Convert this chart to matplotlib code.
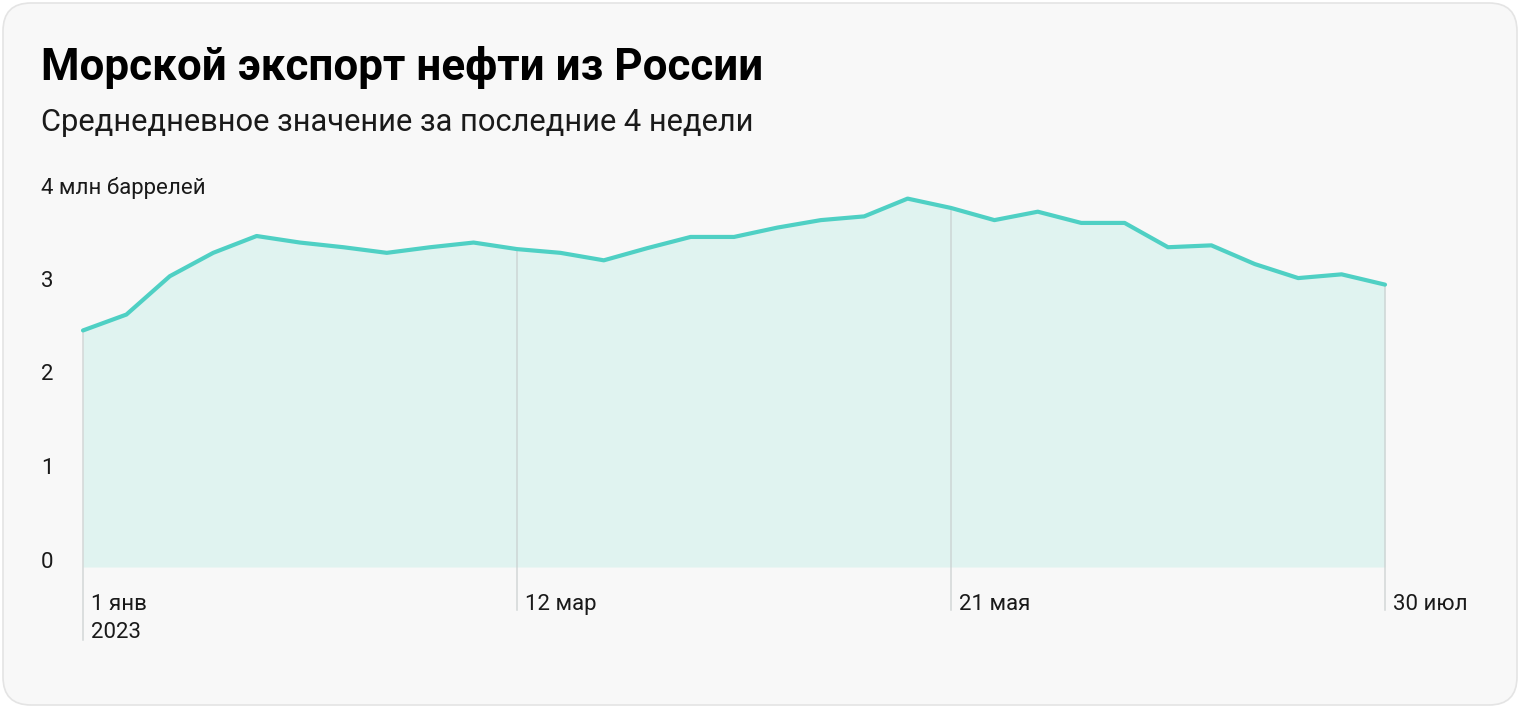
import matplotlib
matplotlib.use("Agg")
import matplotlib.pyplot as plt
import matplotlib.transforms as mtransforms
from matplotlib.patches import FancyBboxPatch
import numpy as np

plt.rcParams['font.family'] = ['Roboto', 'DejaVu Sans']

# weekly values, 1 Jan 2023 .. 30 Jul 2023, million barrels per day
weeks = np.arange(31)
exports = [2.53, 2.70, 3.11, 3.36, 3.54, 3.47, 3.42, 3.36, 3.42, 3.47,
           3.40, 3.36, 3.28, 3.41, 3.53, 3.53, 3.63, 3.71, 3.75, 3.94,
           3.84, 3.71, 3.80, 3.68, 3.68, 3.42, 3.44, 3.24, 3.09, 3.13,
           3.02]
tick_weeks = [0, 10, 20, 30]
tick_labels = ['1 янв\n2023', '12 мар', '21 мая', '30 июл']
y_ticks = [0, 1, 2, 3, 4]
y_labels = ['0', '1', '2', '3', '4 млн баррелей']

title = 'Морской экспорт нефти из России'
subtitle = 'Среднедневное значение за последние 4 недели'

line_color = '#4fd0c4'
fill_color = '#e0f3f0'
card_color = '#f8f8f8'

W, H = 1520, 708
fig = plt.figure(figsize=(W / 100, H / 100), dpi=100)
fig.patch.set_facecolor('white')

card = FancyBboxPatch((0.03, 0.03), W / 100 - 0.06, H / 100 - 0.06,
                      boxstyle='round,pad=0,rounding_size=0.28',
                      transform=fig.dpi_scale_trans, facecolor=card_color,
                      edgecolor='#e4e4e4', linewidth=1.2, zorder=-5)
fig.patches.append(card)

ax = fig.add_axes([83 / W, 1 - 567 / H, (1385 - 83) / W, (567 - 193) / H])
ax.set_facecolor('none')
ax.set_xlim(0, 30)
ax.set_ylim(0, 4)
for s in ax.spines.values():
    s.set_visible(False)
ax.set_xticks([])
ax.set_yticks([])

ax.fill_between(weeks, exports, 0, color=fill_color, linewidth=0, zorder=1)
ax.plot(weeks, exports, color=line_color, lw=3, solid_joinstyle='round',
        solid_capstyle='round', clip_on=False, zorder=3)

# vertical date markers
for i, (wk, lab) in enumerate(zip(tick_weeks, tick_labels)):
    bottom = -0.78 if i == 0 else -0.46
    ax.plot([wk, wk], [exports[wk], bottom], color='#c9cfcf', lw=1.1,
            alpha=0.8, clip_on=False, zorder=2)
    ax.annotate(lab, xy=(wk, 0), xytext=(8, -27), textcoords='offset pixels',
                ha='left', va='top', fontsize=16, color='#1a1a1a',
                linespacing=1.45, annotation_clip=False)

# y labels on the left edge of the card
trans = mtransforms.blended_transform_factory(fig.transFigure, ax.transData)
shift = mtransforms.ScaledTranslation(0, 5 / 100, fig.dpi_scale_trans)
for v, lab in zip(y_ticks, y_labels):
    ax.text(41 / W, v, lab, transform=trans + shift,
            ha='left', va='center', fontsize=16, color='#1a1a1a')

fig.text(41 / W, 1 - 80 / H, title, ha='left', va='baseline',
         fontsize=31.7, fontweight='bold', color='black')
fig.text(41 / W, 1 - 131 / H, subtitle, ha='left', va='baseline',
         fontsize=22.2, color='#1a1a1a')

fig.savefig('out.png', dpi=100, facecolor=fig.get_facecolor())
